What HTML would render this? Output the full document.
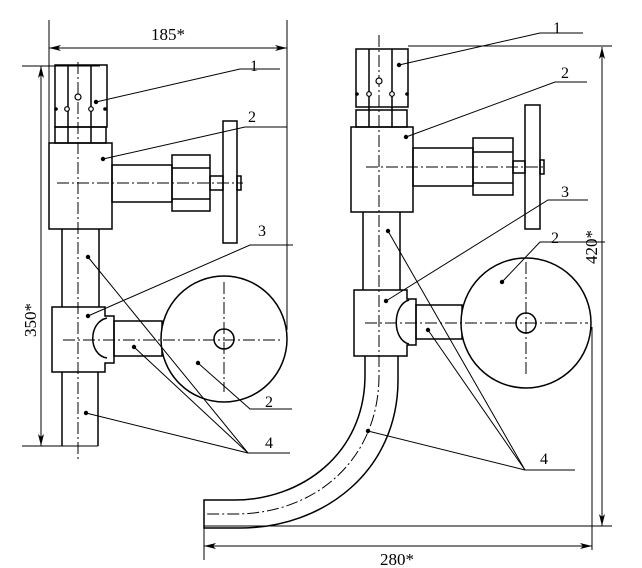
<!DOCTYPE html>
<html><head><meta charset="utf-8"><style>html,body{margin:0;padding:0;background:#fff}svg{display:block}</style></head><body>
<svg width="642" height="568" viewBox="0 0 642 568" xmlns="http://www.w3.org/2000/svg" font-family="Liberation Serif, serif">
<defs>
<marker id="a" viewBox="0 0 12 6" refX="12" refY="3" markerWidth="12" markerHeight="6" orient="auto-start-reverse" markerUnits="userSpaceOnUse"><path d="M0,0 L12,3 L0,6 L3,3 Z" fill="#000"/></marker>
</defs>
<g stroke="#000" fill="none" stroke-width="1.5">
<line x1="49" y1="20" x2="49" y2="143" stroke-width="1"/>
<line x1="287" y1="20" x2="287" y2="330" stroke-width="1"/>
<line x1="49" y1="48" x2="287" y2="48" stroke-width="1" marker-start="url(#a)" marker-end="url(#a)"/>
<line x1="22" y1="66" x2="100" y2="66" stroke-width="1"/>
<line x1="22" y1="446" x2="98" y2="446" stroke-width="1"/>
<line x1="41" y1="66" x2="41" y2="446" stroke-width="1" marker-start="url(#a)" marker-end="url(#a)"/>
<rect x="55" y="65" width="52" height="62"/>
<rect x="55" y="127" width="51" height="16"/>
<line x1="68" y1="65" x2="68" y2="143"/><line x1="91" y1="65" x2="91" y2="143"/>
<rect x="49" y="143" width="63" height="86"/>
<rect x="112" y="165" width="60" height="37"/>
<rect x="172" y="155" width="38" height="56"/>
<line x1="172" y1="168" x2="210" y2="168"/><line x1="172" y1="199" x2="210" y2="199"/>
<rect x="210" y="176" width="13" height="14"/>
<rect x="223" y="121" width="14" height="122"/>
<rect x="237" y="176" width="4" height="14"/>
<line x1="62" y1="229" x2="62" y2="307"/><line x1="99" y1="229" x2="99" y2="307"/>
<path d="M52,307 H105 V316 H114 V363 H105 V372 H52 Z"/>
<path d="M107,318 C88,322 88,355 107,358"/>
<rect x="114" y="321" width="48" height="35"/>
<line x1="62" y1="372" x2="62" y2="446"/><line x1="98" y1="372" x2="98" y2="446"/>
<circle cx="224" cy="339" r="63" fill="#fff"/>
<circle cx="224" cy="339" r="10"/>
<g stroke-width="1" stroke-dasharray="12,3,2,3">
<line x1="78" y1="62" x2="78" y2="460"/>
<line x1="57" y1="183" x2="243" y2="183"/>
<line x1="63" y1="340" x2="283" y2="340"/>
<line x1="224" y1="282" x2="224" y2="392"/>
</g>
<g stroke-width="1">
<polyline points="96,102 240,69 280,69"/>
<polyline points="103,159 245,127 287,127"/>
<polyline points="88,316 250,245 293,245"/>
<polyline points="198,363 250,409 292,409"/>
<polyline points="88,257 248,453 290,453"/>
<line x1="134" y1="347" x2="248" y2="453"/>
<line x1="86" y1="413" x2="248" y2="453"/>
</g>
<rect x="356" y="49" width="52" height="58"/>
<rect x="356" y="110" width="51" height="17"/>
<line x1="369" y1="49" x2="369" y2="127"/><line x1="392" y1="49" x2="392" y2="127"/>
<rect x="351" y="127" width="62" height="85"/>
<rect x="413" y="148" width="60" height="38"/>
<rect x="473" y="138" width="40" height="57"/>
<line x1="473" y1="152" x2="513" y2="152"/><line x1="473" y1="183" x2="513" y2="183"/>
<rect x="513" y="161" width="12" height="12"/>
<rect x="525" y="105" width="15" height="124"/>
<rect x="540" y="160" width="4" height="14"/>
<line x1="363" y1="212" x2="363" y2="290"/><line x1="400" y1="212" x2="400" y2="290"/>
<path d="M354,290 H407 V299 H416 V345 H407 V356 H354 Z"/>
<path d="M409,300 C392,305 392,340 409,344"/>
<rect x="416" y="305" width="46" height="34"/>
<circle cx="526" cy="323" r="65" fill="#fff"/>
<circle cx="526" cy="323" r="10"/>
<path d="M398,356 V380 C398,470 325,528 240,528 H204 V500 H235 C300,500 365,455 365,375 V356"/>
<g stroke-width="1" stroke-dasharray="12,3,2,3">
<line x1="379" y1="35" x2="379" y2="375"/>
<path d="M379,375 C379,460 315,514 235,514 H204"/>
<line x1="366" y1="167" x2="545" y2="167"/>
<line x1="365" y1="323" x2="588" y2="323"/>
<line x1="526" y1="262" x2="526" y2="375"/>
</g>
<g stroke-width="1">
<line x1="408" y1="46" x2="612" y2="46"/>
<line x1="204" y1="526" x2="612" y2="526"/>
<line x1="602" y1="47" x2="602" y2="526" marker-start="url(#a)" marker-end="url(#a)"/>
<line x1="204" y1="528" x2="204" y2="560"/>
<line x1="592" y1="327" x2="592" y2="550"/>
<line x1="204" y1="546" x2="592" y2="546" marker-start="url(#a)" marker-end="url(#a)"/>
<polyline points="399,65 540,33 583,33"/>
<polyline points="406,137 555,82 587,82"/>
<polyline points="386,301 548,200 588,200"/>
<polyline points="502,282 540,242 605,242"/>
<polyline points="388,231 525,470 575,470"/>
<line x1="428" y1="330" x2="525" y2="470"/>
<line x1="368" y1="431" x2="525" y2="470"/>
</g>
</g>
<g fill="#000">
<circle cx="96" cy="102" r="2.2"/><circle cx="103" cy="159" r="2.2"/><circle cx="88" cy="316" r="2.2"/>
<circle cx="198" cy="363" r="2.2"/><circle cx="88" cy="257" r="2.2"/><circle cx="134" cy="347" r="2.2"/><circle cx="86" cy="413" r="2.2"/>
<circle cx="399" cy="65" r="2.2"/><circle cx="406" cy="137" r="2.2"/><circle cx="386" cy="301" r="2.2"/>
<circle cx="502" cy="282" r="2.2"/><circle cx="388" cy="231" r="2.2"/><circle cx="428" cy="330" r="2.2"/><circle cx="368" cy="431" r="2.2"/>
<circle cx="56" cy="109" r="1.8"/><circle cx="105" cy="109" r="1.8"/><circle cx="357" cy="94" r="1.8"/><circle cx="407" cy="94" r="1.8"/>
</g>
<g fill="#fff" stroke="#000" stroke-width="1.2">
<circle cx="78" cy="97" r="3"/><circle cx="67" cy="109" r="2.3"/><circle cx="91" cy="109" r="2.3"/>
<circle cx="379" cy="81" r="3"/><circle cx="369" cy="94" r="2.3"/><circle cx="392" cy="94" r="2.3"/>
</g>
<g font-size="17" fill="#000">
<text x="151" y="40">185*</text>
<text x="250" y="71" font-size="16">1</text>
<text x="248" y="122" font-size="16">2</text>
<text x="258" y="236" font-size="16">3</text>
<text x="265" y="407" font-size="16">2</text>
<text x="265" y="448" font-size="16">4</text>
<text x="553" y="33" font-size="16">1</text>
<text x="561" y="78" font-size="16">2</text>
<text x="561" y="197" font-size="16">3</text>
<text x="551" y="243" font-size="16">2</text>
<text x="540" y="464" font-size="16">4</text>
<text x="380" y="565">280*</text>
<text transform="translate(36,337) rotate(-90)">350*</text>
<text transform="translate(597,264) rotate(-90)">420*</text>
</g>
</svg>
</body></html>
